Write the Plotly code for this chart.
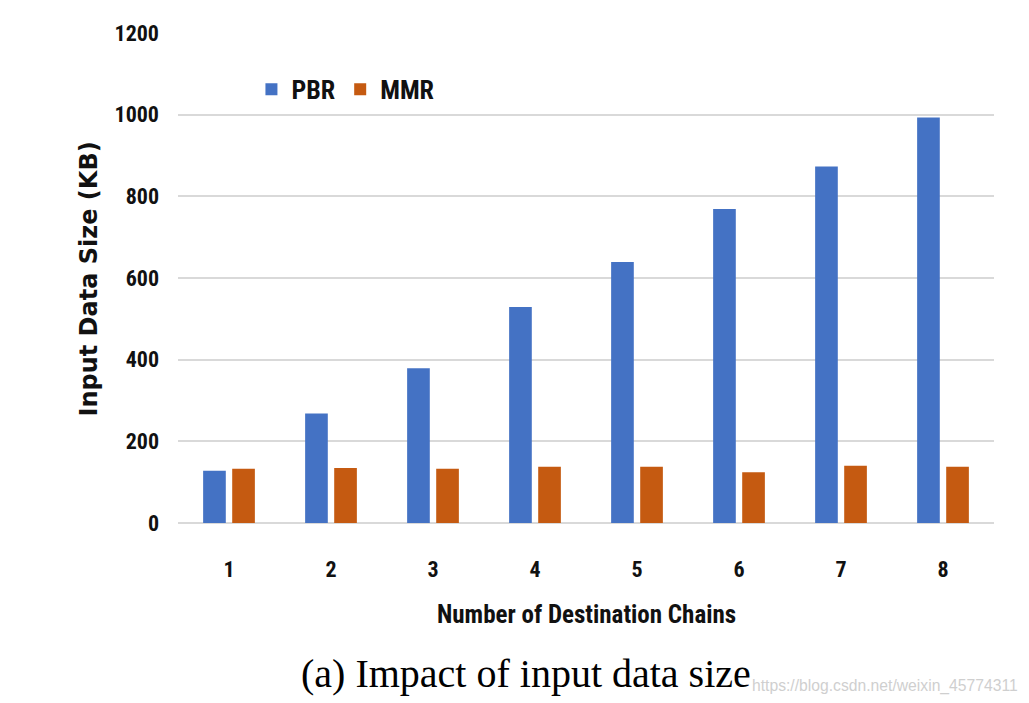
import plotly.graph_objects as go

categories = ["1", "2", "3", "4", "5", "6", "7", "8"]
pbr = [128, 268, 379, 529, 639, 769, 873, 993]
mmr = [133, 135, 133, 138, 138, 124, 140, 138]
y_ticks = [0, 200, 400, 600, 800, 1000, 1200]

BOLD_FONT = "Liberation Sans Narrow, Roboto Condensed, Roboto, sans-serif"

fig = go.Figure()
fig.add_trace(go.Bar(x=categories, y=pbr, name="PBR", marker=dict(color="#4472C4", line=dict(width=0))))
fig.add_trace(go.Bar(x=categories, y=mmr, name="MMR", marker=dict(color="#C55A11", line=dict(width=0))))

fig.update_layout(
    width=1021, height=695,
    margin=dict(l=170, r=35, t=25, b=180),
    paper_bgcolor="white", plot_bgcolor="white",
    barmode="group", bargap=0.43, bargroupgap=0.22,
    font=dict(family=BOLD_FONT, color="#1a1a1a"),
    showlegend=True,
    legend=dict(orientation="h", x=0.09, y=0.885, xanchor="left", yanchor="middle",
                font=dict(size=26, family=BOLD_FONT, weight="bold", color="#111"),
                itemwidth=30, traceorder="normal", bgcolor="rgba(0,0,0,0)"),
    xaxis=dict(type="category", range=[-0.5, 7.5], showgrid=False, zeroline=False, showline=False,
               ticks="", tickfont=dict(size=22, family=BOLD_FONT, weight="bold", color="#111"),
               ticklabelstandoff=31),
    yaxis=dict(range=[0, 1200], tickvals=y_ticks, showgrid=True, gridcolor="#d9d9d9", gridwidth=1.5,
               zeroline=True, zerolinecolor="#d9d9d9", zerolinewidth=1.5, showline=False, ticks="",
               tickfont=dict(size=22, family=BOLD_FONT, weight="bold", color="#111"),
               ticklabelstandoff=18),
)

fig.add_annotation(text="Input Data Size (KB)", textangle=-90, xref="paper", yref="paper",
                   x=-0.109, y=0.497, showarrow=False, xanchor="center", yanchor="middle",
                   font=dict(size=24, family="DejaVu Sans, sans-serif", weight="bold", color="#111"))
fig.add_annotation(text="Number of Destination Chains", xref="paper", yref="paper",
                   x=0.5, y=-0.186, showarrow=False, xanchor="center", yanchor="middle",
                   font=dict(size=25, family=BOLD_FONT, weight="bold", color="#111"))
fig.add_annotation(text="(a) Impact of input data size", xref="paper", yref="paper",
                   x=0.4265, y=-0.307, showarrow=False, xanchor="center", yanchor="middle",
                   font=dict(size=40, family="Liberation Serif, Times New Roman, serif", color="#000"))
fig.add_annotation(text="https://blog.csdn.net/weixin_45774311", xref="paper", yref="paper",
                   x=0.867, y=-0.332, showarrow=False, xanchor="center", yanchor="middle",
                   font=dict(size=15.7, family="Liberation Sans, Arial, sans-serif", color="#cfcfcf"))

fig.write_html("out.html")
